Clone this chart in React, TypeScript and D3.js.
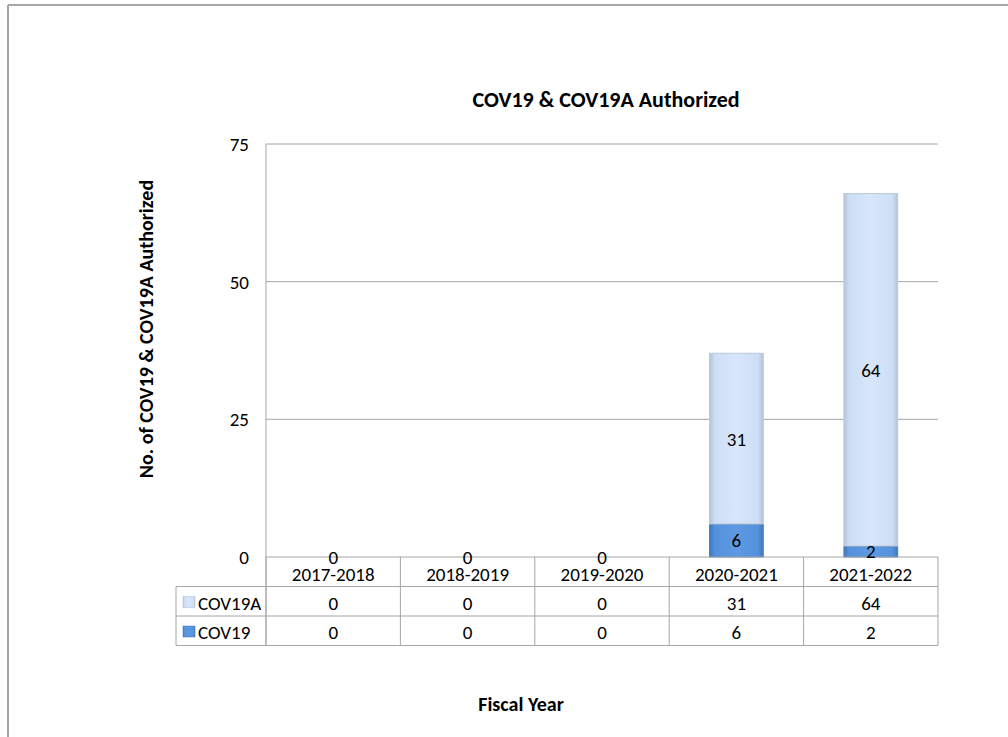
import React from "react";
import * as d3 from "d3";

const categories = ["2017-2018", "2018-2019", "2019-2020", "2020-2021", "2021-2022"];
const cov19 = [0, 0, 0, 6, 2];
const cov19a = [0, 0, 0, 31, 64];
const yTicks = [0, 25, 50, 75];
const seriesNames = ["COV19A", "COV19"];

const W = 1008;
const H = 737;
const FONT = "Carlito, Lato, 'Open Sans', sans-serif";

export default function App() {
  const left = 266, right = 938, top = 144, bottom = 557;
  const rowH = 29.5;
  const legendLeft = 176;
  const x = d3.scaleBand<string>().domain(categories).range([left, right]).paddingInner(0).paddingOuter(0);
  const y = d3.scaleLinear().domain([0, 75]).range([bottom, top]);
  const bw = x.bandwidth();
  const barW = bw * 0.4;
  const stack = d3.stack<any>().keys(["cov19", "cov19a"])(
    categories.map((c, i) => ({ cat: c, cov19: cov19[i], cov19a: cov19a[i] }))
  );
  const grid = "#a6a6a6";
  const tableRows = [cov19a, cov19];
  const fs = 19;
  return (
    <svg width={W} height={H} style={{ position: "absolute", left: 0, top: 0, background: "#fff" }}>
      <defs>
        <linearGradient id="gA" x1="0" x2="1" y1="0" y2="0">
          <stop offset="0" stopColor="#b4c3d8" />
          <stop offset="0.1" stopColor="#cddef6" />
          <stop offset="0.5" stopColor="#d8e6fa" />
          <stop offset="0.9" stopColor="#cddef6" />
          <stop offset="1" stopColor="#b4c3d8" />
        </linearGradient>
        <linearGradient id="gB" x1="0" x2="1" y1="0" y2="0">
          <stop offset="0" stopColor="#3f78c0" />
          <stop offset="0.1" stopColor="#5591dc" />
          <stop offset="0.5" stopColor="#5e9ae3" />
          <stop offset="0.9" stopColor="#5591dc" />
          <stop offset="1" stopColor="#3f78c0" />
        </linearGradient>
      </defs>
      {/* outer border */}
      <line x1={8} x2={W} y1={5} y2={5} stroke="#a6a6a6" strokeWidth={2} />
      <line x1={8} x2={8} y1={5} y2={H} stroke="#a6a6a6" strokeWidth={2} />

      {/* title */}
      <text x={606} y={107} textAnchor="middle" fontFamily={FONT} fontWeight="bold" fontSize={22} fill="#000">
        COV19 &amp; COV19A Authorized
      </text>

      {/* gridlines */}
      {yTicks.filter((t) => t > 0).map((t) => (
        <line key={t} x1={left} x2={right} y1={y(t)} y2={y(t)} stroke={grid} strokeWidth={1} />
      ))}
      {/* y axis line */}
      <line x1={left} x2={left} y1={top} y2={bottom + rowH * 3} stroke={grid} strokeWidth={1} />
      {yTicks.map((t) => (
        <text key={t} x={249} y={y(t) + 7} textAnchor="end" fontFamily={FONT} fontSize={fs} fill="#000">
          {t}
        </text>
      ))}
      <text
        transform={`translate(153,329) rotate(-90)`}
        textAnchor="middle"
        fontFamily={FONT}
        fontWeight="bold"
        fontSize={20}
        fill="#000"
      >
        No. of COV19 &amp; COV19A Authorized
      </text>

      {/* bars */}
      {stack.map((s, si) =>
        s.map((d, i) => {
          const h = y(d[0]) - y(d[1]);
          if (h <= 0) return null;
          const bx = (x(categories[i]) as number) + (bw - barW) / 2;
          return (
            <rect
              key={`${si}-${i}`}
              x={bx}
              y={y(d[1])}
              width={barW}
              height={h}
              fill={si === 0 ? "url(#gB)" : "url(#gA)"}
              stroke={si === 0 ? "#4a7fc0" : "#bcc8d8"}
              strokeWidth={1}
            />
          );
        })
      )}

      {/* axis line at 0 */}
      <line x1={left} x2={right} y1={bottom} y2={bottom} stroke={grid} strokeWidth={1} />

      {/* data labels */}
      {stack.map((s, si) =>
        s.map((d, i) => {
          const v = si === 0 ? cov19[i] : cov19a[i];
          if (si === 1 && v === 0) return null;
          const cx = (x(categories[i]) as number) + bw / 2;
          const cy = (y(d[0]) + y(d[1])) / 2;
          return (
            <text key={`l${si}-${i}`} x={cx} y={cy + 7} textAnchor="middle" fontFamily={FONT} fontSize={fs} fill="#000">
              {v}
            </text>
          );
        })
      )}

      {/* data table */}
      <line x1={right} x2={right} y1={bottom} y2={bottom + rowH * 3} stroke={grid} />
      {categories.map((c, i) => (
        <g key={c}>
          <line x1={x(c) as number} x2={x(c) as number} y1={bottom} y2={bottom + rowH * 3} stroke={grid} />
          <text x={(x(c) as number) + bw / 2} y={bottom + 24} textAnchor="middle" fontFamily={FONT} fontSize={fs} fill="#000">
            {c}
          </text>
          {tableRows.map((r, ri) => (
            <text key={ri} x={(x(c) as number) + bw / 2} y={bottom + rowH * (ri + 1) + 23} textAnchor="middle" fontFamily={FONT} fontSize={fs} fill="#000">
              {r[i]}
            </text>
          ))}
        </g>
      ))}
      {[1, 2, 3].map((k) => (
        <line key={k} x1={legendLeft} x2={right} y1={bottom + rowH * k} y2={bottom + rowH * k} stroke={grid} />
      ))}
      <line x1={legendLeft} x2={legendLeft} y1={bottom + rowH} y2={bottom + rowH * 3} stroke={grid} />
      {seriesNames.map((n, ri) => (
        <g key={n}>
          <rect
            x={legendLeft + 7}
            y={bottom + rowH * (ri + 1) + 10}
            width={12}
            height={11}
            fill={ri === 0 ? "url(#gA)" : "url(#gB)"}
            stroke={ri === 0 ? "#b0bccc" : "#3f78c0"}
            strokeWidth={0.5}
          />
          <text x={legendLeft + 22} y={bottom + rowH * (ri + 1) + 23} fontFamily={FONT} fontSize={fs} fill="#000">
            {n}
          </text>
        </g>
      ))}

      {/* x axis title */}
      <text x={521} y={711} textAnchor="middle" fontFamily={FONT} fontWeight="bold" fontSize={20} fill="#000">
        Fiscal Year
      </text>
    </svg>
  );
}
